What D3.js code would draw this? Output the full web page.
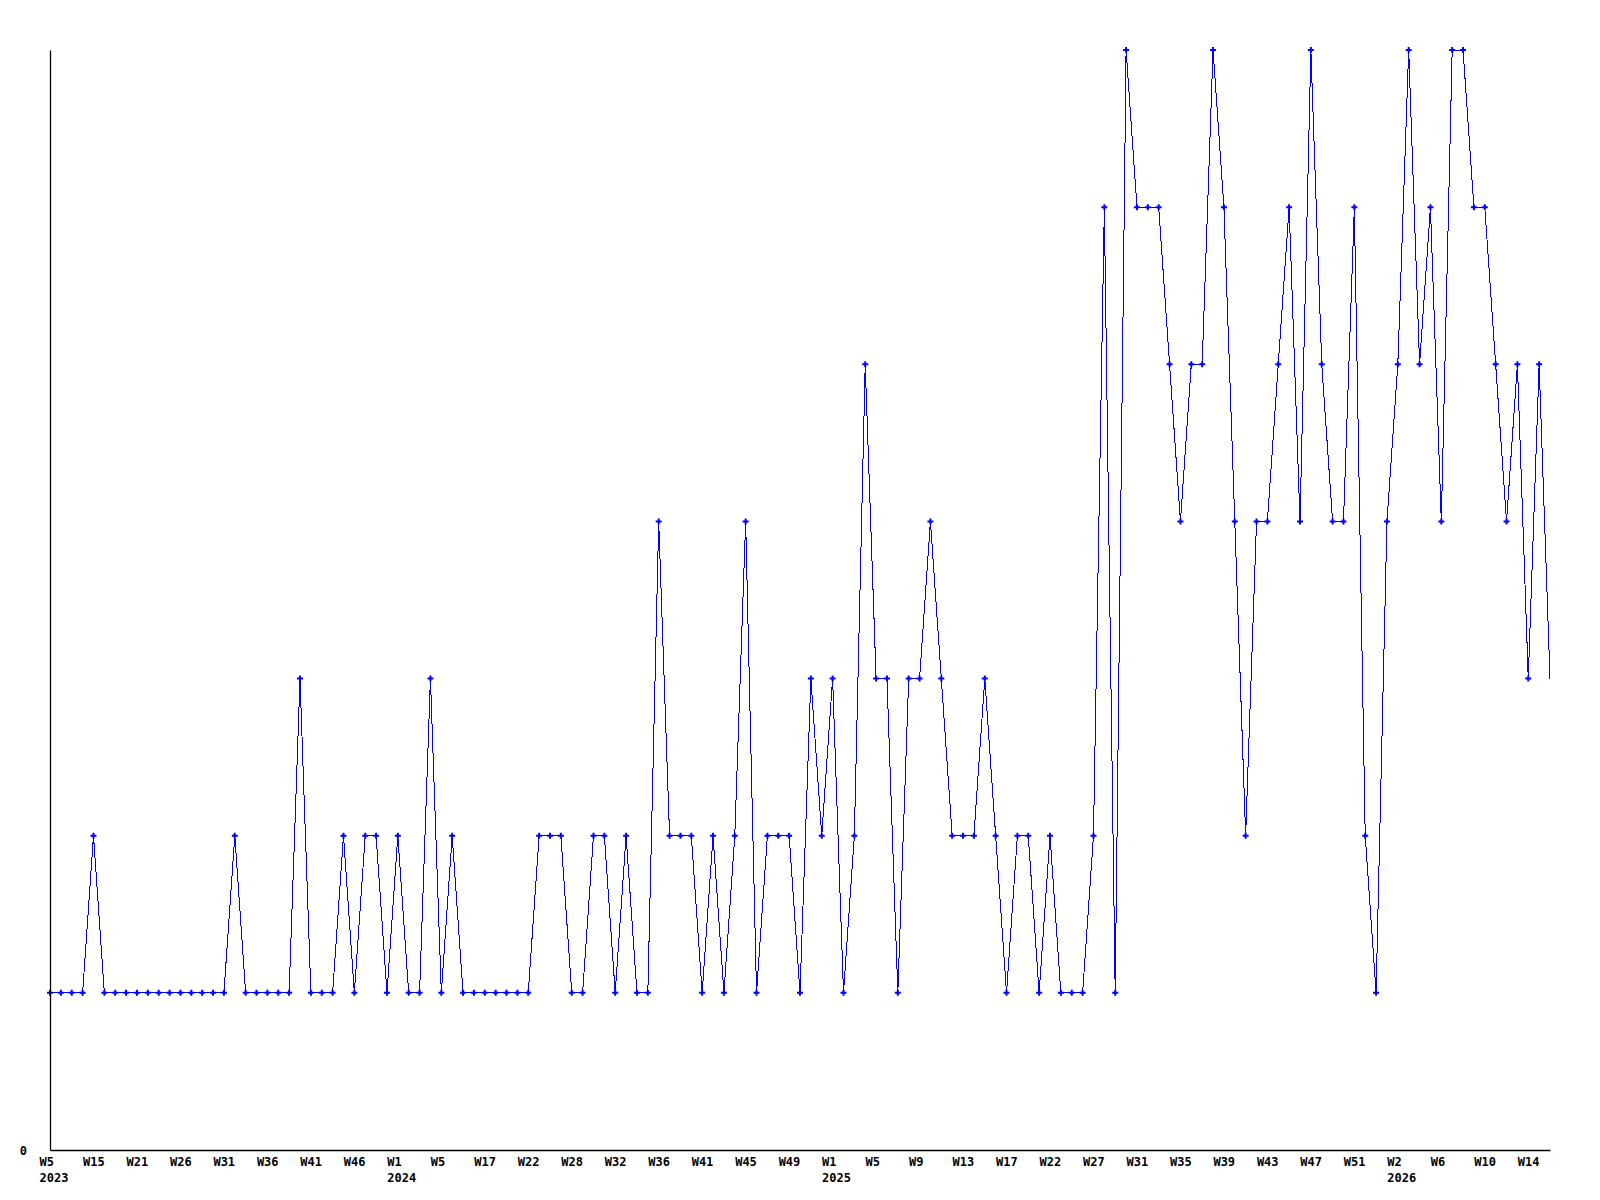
<!DOCTYPE html>
<html>
<head>
<meta charset="utf-8">
<script src="https://cdn.jsdelivr.net/npm/d3@7"></script>
<style>
  html, body { margin: 0; padding: 0; background: #ffffff; }
  svg { display: block; }
  .lbl { font-family: "DejaVu Sans Mono", "Liberation Mono", monospace; font-weight: bold; font-size: 12px; fill: #000; }
</style>
</head>
<body>
<svg id="chart" width="1600" height="1200"></svg>
<script>
// ---- data ----
const values = [
  1,1,1,1,2,1,1,1,1,1,1,1,1,1,1,1,1,2,1,1,1,1,1,3,
  1,1,1,2,1,2,2,1,2,1,1,3,1,2,1,1,1,1,1,1,1,2,2,2,
  1,1,2,2,1,2,1,1,4,2,2,2,1,2,1,2,4,1,2,2,2,1,3,2,
  3,1,2,5,3,3,1,3,3,4,3,2,2,2,3,2,1,2,2,1,2,1,1,1,
  2,6,1,7,6,6,6,5,4,5,5,7,6,4,2,4,4,5,6,4,7,5,4,4,
  6,2,1,4,5,7,5,6,4,7,7,6,6,5,4,5,3,5,3
];
// one label every 4th point
const tickLabels = [
  "W5","W15","W21","W26","W31","W36","W41","W46",
  "W1","W5","W17","W22","W28","W32","W36","W41","W45","W49",
  "W1","W5","W9","W13","W17","W22","W27","W31","W35","W39","W43","W47","W51",
  "W2","W6","W10","W14"
];
const tickYears = [
  "2023","","","","","","","",
  "2024","","","","","","","","","",
  "2025","","","","","","","","","","","","",
  "2026","","","",""
];
const tickStep = 4;
const yTicks = [0];
const yMax = 7;

// ---- layout ----
const mLeft = 50, mRight = 1550, mTop = 50, mBottom = 1150;
const svg = d3.select("#chart");

const x = d3.scaleLinear().domain([0, values.length - 1]).range([mLeft, mRight]);
const y = d3.scaleLinear().domain([0, yMax]).range([mBottom, mTop]);

// line
const line = d3.line().x((d, i) => x(i)).y(d => y(d));
svg.append("path")
  .datum(values)
  .attr("d", line)
  .attr("fill", "none")
  .attr("stroke", "#0000ff")
  .attr("stroke-width", 1)
  .attr("shape-rendering", "crispEdges");

// markers (all but the last, partial point)
const sym = d3.symbol().type(d3.symbolCross).size(20);
svg.append("g")
  .selectAll("path")
  .data(values.slice(0, values.length - 1))
  .join("path")
  .attr("d", sym)
  .attr("transform", (d, i) => `translate(${x(i)},${y(d)})`)
  .attr("fill", "#0000ff");

// x axis
const tickIdx = tickLabels.map((_, k) => k * tickStep);
const xAxis = d3.axisBottom(x)
  .tickValues(tickIdx)
  .tickSize(0)
  .tickSizeOuter(0)
  .tickFormat(i => tickLabels[i / tickStep]);
const gx = svg.append("g").attr("transform", `translate(0,${mBottom})`).call(xAxis);
gx.attr("font-family", null).attr("font-size", null);
gx.select(".domain").attr("stroke", "#000").attr("stroke-width", 1.3);
gx.selectAll(".tick text")
  .attr("class", "lbl")
  .attr("text-anchor", "start")
  .attr("x", -11)
  .attr("y", 16)
  .attr("dy", null);
gx.selectAll(".tick")
  .append("text")
  .attr("class", "lbl")
  .attr("text-anchor", "start")
  .attr("x", -11)
  .attr("y", 32)
  .text(i => tickYears[i / tickStep]);

// y axis
const yAxis = d3.axisLeft(y).tickValues(yTicks).tickSize(0).tickSizeOuter(0)
  .tickPadding(23).tickFormat(d3.format("d"));
const gy = svg.append("g").attr("transform", `translate(${mLeft},0)`).call(yAxis);
gy.attr("font-family", null).attr("font-size", null);
gy.select(".domain").attr("stroke", "#000").attr("stroke-width", 1.3);
gy.selectAll(".tick text")
  .attr("class", "lbl")
  .attr("dy", "0.4em");
</script>
</body>
</html>
